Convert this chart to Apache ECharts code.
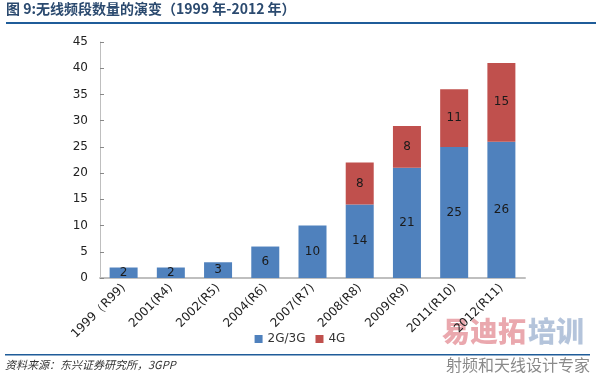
<!DOCTYPE html>
<html>
<head>
<meta charset="utf-8">
<script src="https://cdn.jsdelivr.net/npm/echarts@6/dist/echarts.min.js"></script>
<style>
  html, body { margin: 0; padding: 0; background: #fff; }
  #main { width: 600px; height: 376px; }
</style>
</head>
<body>
<div id="main"></div>
<script>
const categories = ['1999（R99)', '2001(R4)', '2002(R5)', '2004(R6)', '2007(R7)', '2008(R8)', '2009(R9)', '2011(R10)', '2012(R11)']
const bands23g = [2, 2, 3, 6, 10, 14, 21, 25, 26]
const bands4g = [null, null, null, null, null, 8, 8, 11, 15]
const yTicks = [0, 5, 10, 15, 20, 25, 30, 35, 40, 45]

const chart = echarts.init(document.getElementById('main'))

const labelStyle = {
  show: true,
  position: 'inside',
  color: '#1a1a1a',
  fontSize: 12,
  fontFamily: 'DejaVu Sans',
}

const option = {
  animation: false,
  textStyle: { fontFamily: 'DejaVu Sans' },
  grid: { left: 100, right: 75, top: 42, bottom: 98 },
  legend: {
    data: ['2G/3G', '4G'],
    bottom: 26,
    left: 'center',
    itemWidth: 8,
    itemHeight: 8,
    itemGap: 10,
    icon: 'rect',
    textStyle: { color: '#333', fontSize: 12 },
  },
  xAxis: {
    type: 'category',
    data: categories,
    axisLine: { lineStyle: { color: '#bfbfbf', width: 2 } },
    axisTick: { show: false },
    axisLabel: {
      interval: 0,
      rotate: 45,
      color: '#222',
      fontSize: 12,
      margin: 8,
    },
  },
  yAxis: {
    type: 'value',
    min: yTicks[0],
    max: yTicks[yTicks.length - 1],
    interval: 5,
    axisLine: { show: true, lineStyle: { color: '#bfbfbf' } },
    axisTick: { show: true, inside: true, length: 4, lineStyle: { color: '#888' } },
    splitLine: { show: false },
    axisLabel: { color: '#222', fontSize: 12, margin: 12 },
  },
  series: [
    {
      name: '2G/3G',
      type: 'bar',
      stack: 'total',
      barWidth: 28,
      itemStyle: { color: '#4F81BD' },
      label: labelStyle,
      data: bands23g,
    },
    {
      name: '4G',
      type: 'bar',
      stack: 'total',
      barWidth: 28,
      itemStyle: { color: '#C0504D' },
      label: labelStyle,
      data: bands4g,
    },
  ],
  graphic: [
    {
      type: 'text',
      left: 6,
      top: 2,
      style: {
        text: '图 9:无线频段数量的演变（1999 年-2012 年）',
        font: 'bold 14px "Noto Sans CJK SC", sans-serif',
        fill: '#2B4A6F',
      },
    },
    { type: 'rect', shape: { x: 6, y: 22, width: 590, height: 2 }, style: { fill: '#1F5C99' } },
    { type: 'rect', shape: { x: 5, y: 354, width: 585, height: 1.5 }, style: { fill: '#1F5C99' } },
    {
      type: 'text',
      left: 5,
      top: 359,
      style: {
        text: '资料来源：东兴证券研究所，3GPP',
        font: 'italic 11px "Noto Sans CJK SC", sans-serif',
        fill: '#333',
      },
    },
    {
      type: 'text',
      left: 442,
      top: 317,
      style: {
        text: '易迪拓',
        font: '900 28px "Noto Sans CJK SC", sans-serif',
        fill: 'rgba(220, 110, 120, 0.6)',
      },
    },
    {
      type: 'text',
      left: 528,
      top: 317,
      style: {
        text: '培训',
        font: '900 28px "Noto Sans CJK SC", sans-serif',
        fill: 'rgba(140, 165, 200, 0.65)',
      },
    },
    {
      type: 'text',
      left: 446,
      top: 357,
      style: {
        text: '射频和天线设计专家',
        font: '16px "Noto Sans CJK SC", sans-serif',
        fill: '#8a8a8a',
      },
    },
  ],
}

chart.setOption(option)
</script>
</body>
</html>
